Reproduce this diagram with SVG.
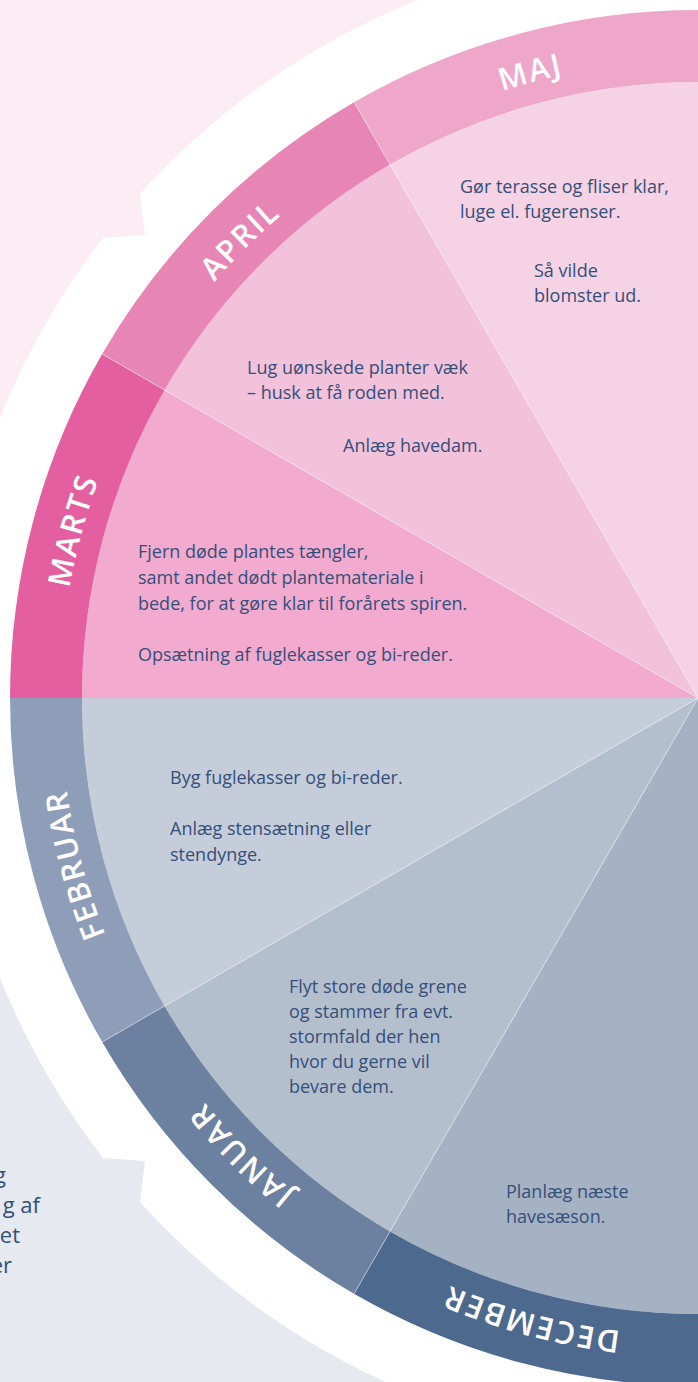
<svg xmlns="http://www.w3.org/2000/svg" width="698" height="1382" viewBox="0 0 698 1382">
<defs>
<style>
.lbl{font-family:"Open Sans","Noto Sans","Liberation Sans",sans-serif;font-size:31px;font-weight:600;fill:#ffffff;letter-spacing:2px;}
.txt{font-family:"Open Sans","Noto Sans","Liberation Sans",sans-serif;font-size:18px;font-weight:400;fill:#34507a;}
.frag{font-family:"Open Sans","Noto Sans","Liberation Sans",sans-serif;font-size:22px;font-weight:400;fill:#34507a;}
.sep{stroke:#ffffff;stroke-opacity:0.45;stroke-width:1;fill:none;}
</style>
<path id="lp" d="M 60,698 A 638,638 0 0 1 1336,698 A 638,638 0 0 1 60,698"/>
</defs>

<g id="background">
<rect x="0" y="0" width="698" height="698" fill="#fcedf5"/>
<rect x="0" y="698" width="698" height="684" fill="#e6e9f0"/>
<circle cx="698" cy="698" r="752" fill="#ffffff"/>
<polygon points="140,193 145,235 103,238 60,260 60,150" fill="#fcedf5"/>
<polygon points="140,1203 145,1161 103,1158 60,1136 60,1246" fill="#e6e9f0"/>
<text class="frag" text-anchor="end" x="6" y="1183">g</text>
<text class="frag" text-anchor="end" x="40" y="1213">g af</text>
<text class="frag" text-anchor="end" x="20" y="1243">et</text>
<text class="frag" text-anchor="end" x="12" y="1273">er</text>
</g>

<g id="maj">
<path d="M698,698 L390,164.53 A616,616 0 0 1 698,82 Z" fill="#f5d2e4"/>
<path d="M354,102.17 A688,688 0 0 1 698,10 L698,82 A616,616 0 0 0 390,164.53 Z" fill="#eea6c9"/>
<text class="lbl" text-anchor="middle"><textPath href="#lp" startOffset="20.833%">MAJ</textPath></text>
<text class="txt" x="460" y="193">Gør terasse og fliser klar,</text>
<text class="txt" x="460" y="218">luge el. fugerenser.</text>
<text class="txt" x="534" y="277">Så vilde</text>
<text class="txt" x="534" y="302">blomster ud.</text>
</g>

<g id="april">
<path d="M698,698 L164.53,390 A616,616 0 0 1 390,164.53 Z" fill="#f2c1da"/>
<path d="M102.17,354 A688,688 0 0 1 354,102.17 L390,164.53 A616,616 0 0 0 164.53,390 Z" fill="#e786b4"/>
<text class="lbl" text-anchor="middle"><textPath href="#lp" startOffset="12.5%">APRIL</textPath></text>
<text class="txt" x="247" y="374">Lug uønskede planter væk</text>
<text class="txt" x="247" y="399">– husk at få roden med.</text>
<text class="txt" x="343" y="452">Anlæg havedam.</text>
</g>

<g id="marts">
<path d="M698,698 L82,698 A616,616 0 0 1 164.53,390 Z" fill="#f2aace"/>
<path d="M10,698 A688,688 0 0 1 102.17,354 L164.53,390 A616,616 0 0 0 82,698 Z" fill="#e35f9f"/>
<text class="lbl" text-anchor="middle"><textPath href="#lp" startOffset="4.1667%">MARTS</textPath></text>
<text class="txt" x="138" y="558">Fjern døde plantes tængler,</text>
<text class="txt" x="138" y="584">samt andet dødt plantemateriale i</text>
<text class="txt" x="138" y="610">bede, for at gøre klar til forårets spiren.</text>
<text class="txt" x="138" y="661">Opsætning af fuglekasser og bi-reder.</text>
</g>

<g id="februar">
<path d="M698,698 L164.53,1006 A616,616 0 0 1 82,698 Z" fill="#c5ccda"/>
<path d="M102.17,1042 A688,688 0 0 1 10,698 L82,698 A616,616 0 0 0 164.53,1006 Z" fill="#8f9eb8"/>
<text class="lbl" text-anchor="middle"><textPath href="#lp" startOffset="95.833%">FEBRUAR</textPath></text>
<text class="txt" x="170" y="784">Byg fuglekasser og bi-reder.</text>
<text class="txt" x="170" y="835">Anlæg stensætning eller</text>
<text class="txt" x="170" y="861">stendynge.</text>
</g>

<g id="januar">
<path d="M698,698 L390,1231.47 A616,616 0 0 1 164.53,1006 Z" fill="#b4bfce"/>
<path d="M354,1293.83 A688,688 0 0 1 102.17,1042 L164.53,1006 A616,616 0 0 0 390,1231.47 Z" fill="#6c80a0"/>
<text class="lbl" text-anchor="middle"><textPath href="#lp" startOffset="87.5%">JANUAR</textPath></text>
<text class="txt" x="289" y="993">Flyt store døde grene</text>
<text class="txt" x="289" y="1018">og stammer fra evt.</text>
<text class="txt" x="289" y="1043">stormfald der hen</text>
<text class="txt" x="289" y="1068">hvor du gerne vil</text>
<text class="txt" x="289" y="1093">bevare dem.</text>
</g>

<g id="december">
<path d="M698,698 L698,1314 A616,616 0 0 1 390,1231.47 Z" fill="#a5b2c4"/>
<path d="M698,1386 A688,688 0 0 1 354,1293.83 L390,1231.47 A616,616 0 0 0 698,1314 Z" fill="#4d6a8e"/>
<text class="lbl" text-anchor="middle"><textPath href="#lp" startOffset="79.167%">DECEMBER</textPath></text>
<text class="txt" x="506" y="1198">Planlæg næste</text>
<text class="txt" x="506" y="1223">havesæson.</text>
</g>

<g id="connectors">
<line class="sep" x1="698" y1="698" x2="102.17" y2="354"/>
<line class="sep" x1="698" y1="698" x2="354" y2="102.17"/>
<line class="sep" x1="698" y1="698" x2="102.17" y2="1042"/>
<line class="sep" x1="698" y1="698" x2="354" y2="1293.83"/>
</g>
</svg>
